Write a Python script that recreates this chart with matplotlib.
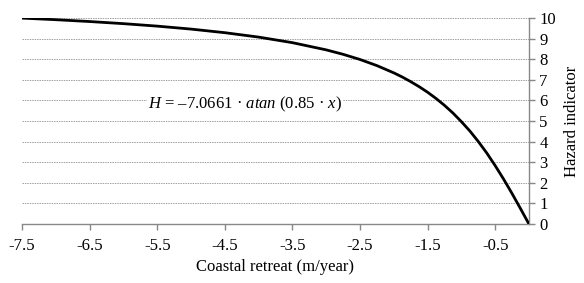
import matplotlib.pyplot as plt

# Coastal retreat (m/year) vs hazard indicator
retreat = [-7.5, -7.0, -6.5, -6.0, -5.5, -5.0, -4.5, -4.0, -3.5, -3.0,
           -2.75, -2.5, -2.25, -2.0, -1.875, -1.75, -1.625, -1.5, -1.375,
           -1.25, -1.125, -1.0, -0.875, -0.75, -0.625, -0.5, -0.375,
           -0.25, -0.125, 0.0]
hazard = [10.0, 9.923, 9.834, 9.731, 9.611, 9.467, 9.292, 9.078, 8.808, 8.458,
          8.242, 7.991, 7.694, 7.342, 7.141, 6.915, 6.671, 6.401, 6.098,
          5.764, 5.392, 4.973, 4.521, 4.010, 3.453, 2.838, 2.180,
          1.480, 0.748, 0.0]

xticks = [-7.5, -6.5, -5.5, -4.5, -3.5, -2.5, -1.5, -0.5]
yticks = list(range(0, 11))

plt.rcParams['font.family'] = 'Liberation Serif'
plt.rcParams['mathtext.fontset'] = 'custom'
plt.rcParams['mathtext.rm'] = 'Liberation Serif'
plt.rcParams['mathtext.it'] = 'Liberation Serif:italic'

fig = plt.figure(figsize=(5.84, 2.83), dpi=100)
ax = fig.add_axes([0.0377, 0.2085, 0.868, 0.7275])

# dotted horizontal grid
for y in yticks[1:]:
    ax.axhline(y, color='#a0a0a0', linestyle=(0, (1.5, 1)), linewidth=0.7, zorder=1)

ax.plot(retreat, hazard, color='black', linewidth=2.0, zorder=3)

ax.set_xlim(-7.5, 0)
ax.set_ylim(0, 10)
ax.set_xticks(xticks)
ax.set_xticklabels([str(v) for v in xticks])
ax.set_yticks(yticks)

ax.yaxis.tick_right()
ax.yaxis.set_label_position('right')
for side in ['top', 'left']:
    ax.spines[side].set_visible(False)
for side in ['bottom', 'right']:
    ax.spines[side].set_color('#888888')
    ax.spines[side].set_linewidth(1.0)
ax.tick_params(axis='both', colors='#888888', labelcolor='black',
               labelsize=12, length=4, width=1.0, direction='out')
ax.tick_params(axis='x', pad=6)

ax.set_xlabel('Coastal retreat (m/year)', fontsize=12, labelpad=4)
ax.set_ylabel('Hazard indicator', fontsize=12, labelpad=6)

ax.text(-4.2, 5.83, r'$H$ = –7.0661 · $atan$ (0.85 · $x$)',
        fontsize=12, ha='center', va='center', zorder=4,
        bbox=dict(facecolor='white', edgecolor='none', pad=1))

fig.savefig('out.png', dpi=100)
